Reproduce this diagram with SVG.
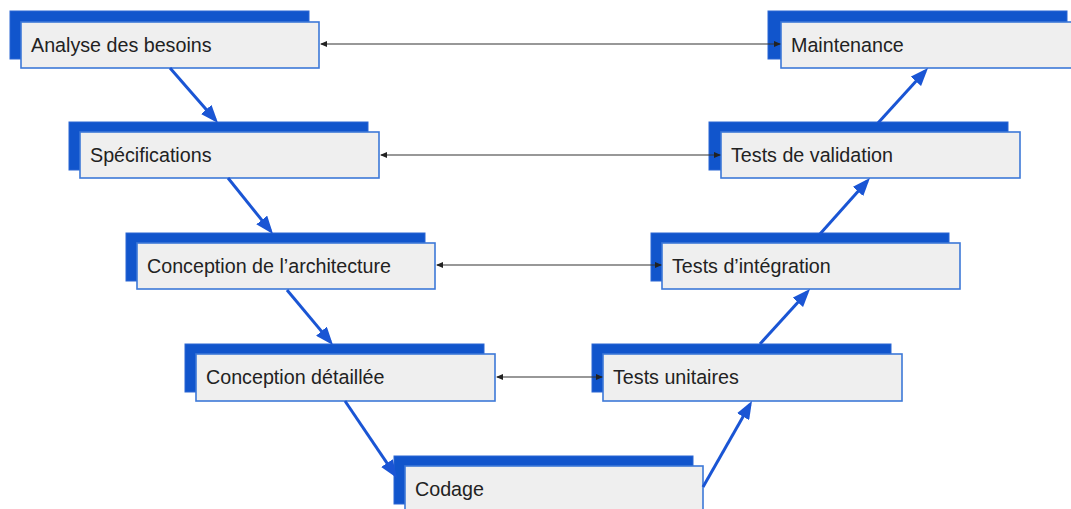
<svg xmlns="http://www.w3.org/2000/svg" width="1071" height="509" viewBox="0 0 1071 509">
  <defs>
    <style>
      .back { fill: #1155cc; stroke: #2b66d4; stroke-width: 1; }
      .front { fill: #efefef; stroke: #3c78d8; stroke-width: 1.6; }
      .label { font-family: "Liberation Sans", Arial, sans-serif; font-size: 19.7px; fill: #222222; }
      .flow { stroke: #1a55d4; stroke-width: 3; fill: none; marker-end: url(#bigArrow); }
      .link { stroke: #333333; stroke-width: 1.2; fill: none; marker-start: url(#smallArrow); marker-end: url(#smallArrow); }
    </style>
    <marker id="bigArrow" markerUnits="userSpaceOnUse" markerWidth="18" markerHeight="14" refX="14" refY="7" orient="auto">
      <path d="M0,0 L18,7 L0,14 z" fill="#1a55d4"/>
    </marker>
    <marker id="smallArrow" markerUnits="userSpaceOnUse" markerWidth="7" markerHeight="6" refX="6" refY="3" orient="auto-start-reverse">
      <path d="M0,0 L7,3 L0,6 z" fill="#222222"/>
    </marker>
  </defs>
  <rect x="0" y="0" width="1071" height="509" fill="#ffffff"/>

  <g id="n-analyse">
    <rect class="back" x="10" y="11" width="299" height="48"/>
    <rect class="front" x="21" y="22" width="298" height="46"/>
    <text class="label" x="31" y="52">Analyse des besoins</text>
  </g>
  <g id="n-specifications">
    <rect class="back" x="69" y="122" width="299" height="48"/>
    <rect class="front" x="80" y="132" width="299" height="46"/>
    <text class="label" x="90" y="162">Spécifications</text>
  </g>
  <g id="n-architecture">
    <rect class="back" x="126" y="233" width="299" height="48"/>
    <rect class="front" x="137" y="243" width="298" height="46"/>
    <text class="label" x="147" y="273">Conception de l’architecture</text>
  </g>
  <g id="n-detaillee">
    <rect class="back" x="185" y="344" width="299" height="48"/>
    <rect class="front" x="196" y="354" width="299" height="47"/>
    <text class="label" x="206" y="384">Conception détaillée</text>
  </g>
  <g id="n-codage">
    <rect class="back" x="394" y="456" width="299" height="48"/>
    <rect class="front" x="405" y="466" width="298" height="50"/>
    <text class="label" x="415" y="496">Codage</text>
  </g>
  <g id="n-unitaires">
    <rect class="back" x="592" y="344" width="299" height="48"/>
    <rect class="front" x="603" y="354" width="299" height="47"/>
    <text class="label" x="613" y="384">Tests unitaires</text>
  </g>
  <g id="n-integration">
    <rect class="back" x="651" y="233" width="298" height="48"/>
    <rect class="front" x="662" y="243" width="298" height="46"/>
    <text class="label" x="672" y="273">Tests d’intégration</text>
  </g>
  <g id="n-validation">
    <rect class="back" x="709" y="122" width="299" height="48"/>
    <rect class="front" x="721" y="132" width="299" height="46"/>
    <text class="label" x="731" y="162">Tests de validation</text>
  </g>
  <g id="n-maintenance">
    <rect class="back" x="768" y="11" width="299" height="48"/>
    <rect class="front" x="781" y="22" width="299" height="46"/>
    <text class="label" x="791" y="52">Maintenance</text>
  </g>

  <g id="connectors">
    <line class="flow" x1="170" y1="68" x2="215.4" y2="120"/>
    <line class="flow" x1="228" y1="178" x2="270.5" y2="230.9"/>
    <line class="flow" x1="287" y1="290" x2="330.4" y2="341.9"/>
    <line class="flow" x1="345" y1="401" x2="394.8" y2="474.7"/>
    <line class="flow" x1="703" y1="487" x2="750" y2="404.5"/>
    <line class="flow" x1="760" y1="344" x2="807.3" y2="292"/>
    <line class="flow" x1="820" y1="234" x2="867.3" y2="181"/>
    <line class="flow" x1="878" y1="123" x2="925.3" y2="71"/>

    <line class="link" x1="321" y1="44" x2="780" y2="44"/>
    <line class="link" x1="381" y1="155" x2="720" y2="155"/>
    <line class="link" x1="437" y1="265" x2="661" y2="265"/>
    <line class="link" x1="497" y1="377" x2="602" y2="377"/>
  </g>
</svg>
